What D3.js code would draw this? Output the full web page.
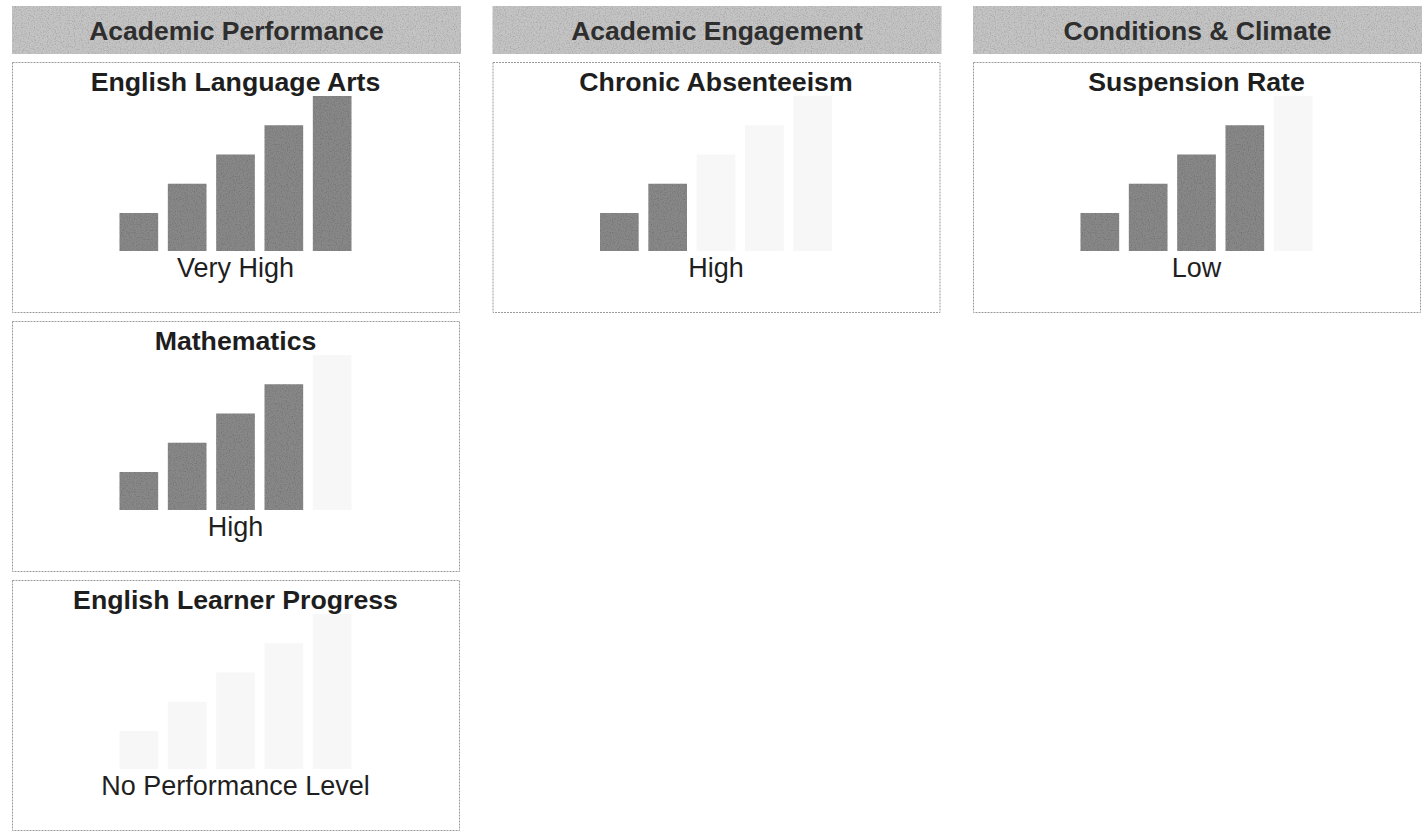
<!DOCTYPE html>
<html>
<head>
<meta charset="utf-8">
<script src="https://cdn.jsdelivr.net/npm/d3@7"></script>
<style>
  html, body { margin: 0; padding: 0; background: #ffffff; }
  svg { display: block; font-family: "Liberation Sans", Arial, Helvetica, sans-serif; }
</style>
</head>
<body>
<svg id="chart" width="1428" height="833"></svg>
<script>
// Dashboard groups (column headers)
const groups = ["Academic Performance", "Academic Engagement", "Conditions & Climate"];

// Indicators, the column each one sits in, and its row within that column
const indicators = ["English Language Arts", "Mathematics", "English Learner Progress", "Chronic Absenteeism", "Suspension Rate"];
const indicatorGroup = [0, 0, 0, 1, 2];
const indicatorRow = [0, 1, 2, 0, 0];

// Status level reported for each indicator and how many gauge bars are filled
const statusLabels = ["Very High", "High", "No Performance Level", "High", "Low"];
const filledBars = [5, 4, 0, 2, 4];

// The five gauge steps (bar heights grow with the step)
const barLevels = [1, 2, 3, 4, 5];

const svg = d3.select("#chart");

// Grain texture used on the grey fills
const defs = svg.append("defs");
const grain = defs.append("filter").attr("id", "grain")
  .attr("x", 0).attr("y", 0).attr("width", 1).attr("height", 1);
grain.append("feTurbulence").attr("type", "fractalNoise")
  .attr("baseFrequency", 0.85).attr("numOctaves", 2).attr("seed", 4).attr("result", "noise");
grain.append("feColorMatrix").attr("in", "noise").attr("type", "matrix")
  .attr("values", "0 0 0 0 0  0 0 0 0 0  0 0 0 0 0  0.8 0 0 0 -0.36").attr("result", "dots");
grain.append("feComposite").attr("in", "dots").attr("in2", "SourceGraphic")
  .attr("operator", "in").attr("result", "clipped");
const merge = grain.append("feMerge");
merge.append("feMergeNode").attr("in", "SourceGraphic");
merge.append("feMergeNode").attr("in", "clipped");

// Layout
const colX = d3.scaleLinear().domain([0, 2]).range([12, 973]);
const colW = 449;
const headerY = 6, headerH = 48;
const panelTop = d3.scaleLinear().domain([0, 1]).range([62, 321]);
const panelH = 250;

// Column headers
const headers = svg.selectAll("g.header").data(groups).join("g")
  .attr("class", "header")
  .attr("transform", (d, i) => `translate(${colX(i)},${headerY})`);
headers.append("rect")
  .attr("width", colW).attr("height", headerH)
  .attr("fill", "#c4c4c4").attr("filter", "url(#grain)");
headers.append("text")
  .attr("x", colW / 2).attr("y", 33.5)
  .attr("text-anchor", "middle")
  .attr("font-size", 26.5).attr("font-weight", "bold")
  .attr("fill", "#2e2e2e")
  .text(d => d);

// Indicator panels
const panelData = indicators.map((name, i) => ({
  name,
  col: indicatorGroup[i],
  row: indicatorRow[i],
  status: statusLabels[i],
  filled: filledBars[i]
}));

const panels = svg.selectAll("g.panel").data(panelData).join("g")
  .attr("class", "panel")
  .attr("transform", d => `translate(${colX(d.col)},${panelTop(d.row)})`);

panels.append("rect")
  .attr("x", 0.5).attr("y", 0.5)
  .attr("width", colW - 2).attr("height", panelH)
  .attr("fill", "#ffffff")
  .attr("stroke", "#9a9a9a").attr("stroke-width", 1)
  .attr("stroke-dasharray", "2,1");

panels.append("text")
  .attr("x", (colW - 2) / 2).attr("y", 29)
  .attr("text-anchor", "middle")
  .attr("font-size", 26.7).attr("font-weight", "bold")
  .attr("fill", "#1e1e1e")
  .text(d => d.name);

// Gauge scales shared by every panel
const gaugeBase = 189;
const x = d3.scaleBand()
  .domain(barLevels)
  .range([(colW - 2) / 2 - 116, (colW - 2) / 2 + 116])
  .paddingInner(0.2).paddingOuter(0);
const y = d3.scaleLinear().domain([-0.3, 5]).range([gaugeBase, gaugeBase - 155]);

panels.each(function (p) {
  d3.select(this).selectAll("rect.bar").data(barLevels).join("rect")
    .attr("class", "bar")
    .attr("x", d => x(d))
    .attr("width", x.bandwidth())
    .attr("y", d => y(d))
    .attr("height", d => y(-0.3) - y(d))
    .attr("fill", d => d <= p.filled ? "#888888" : "#f7f7f7")
    .attr("filter", d => d <= p.filled ? "url(#grain)" : null);
});

panels.append("text")
  .attr("x", (colW - 2) / 2).attr("y", 215)
  .attr("text-anchor", "middle")
  .attr("font-size", 27)
  .attr("fill", "#1f1f1f")
  .text(d => d.status);
</script>
</body>
</html>
